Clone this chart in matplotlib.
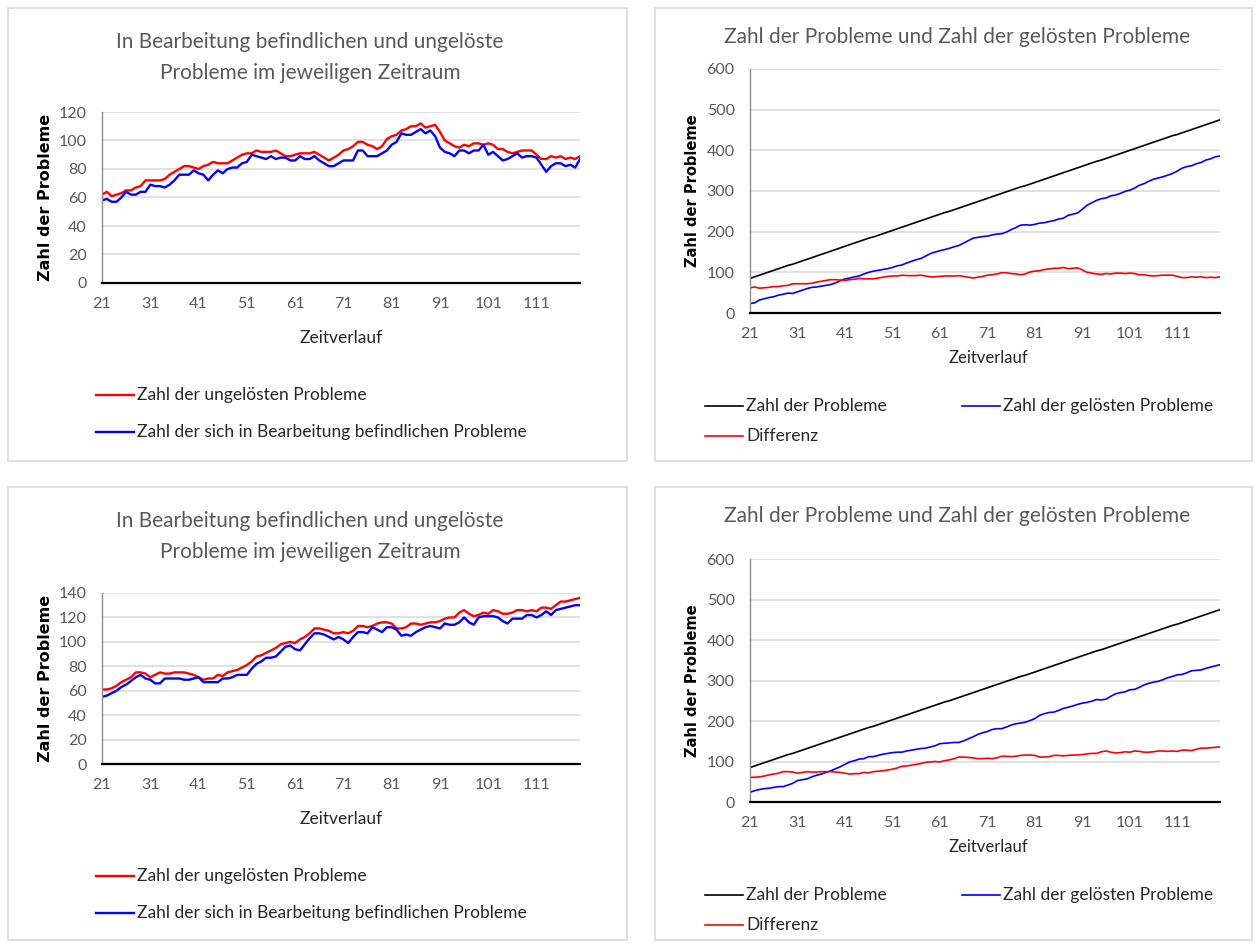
import matplotlib
matplotlib.use("Agg")
import matplotlib.pyplot as plt
from matplotlib.lines import Line2D
from matplotlib.patches import Rectangle

plt.rcParams['font.family'] = ['Lato', 'DejaVu Sans']

# ---- data -------------------------------------------------------------
periods = list(range(21, 121))
tick_labels = ['21', '31', '41', '51', '61', '71', '81', '91', '101', '111']

# total number of problems (black line, same in both right charts)
total_problems = [
    85, 89, 93, 97, 101, 105, 109, 113, 117, 120,
    124, 128, 132, 136, 140, 144, 148, 152, 156, 160,
    164, 168, 172, 176, 180, 184, 187, 191, 195, 199,
    203, 207, 211, 215, 219, 223, 227, 231, 235, 239,
    243, 247, 250, 254, 258, 262, 266, 270, 274, 278,
    282, 286, 290, 294, 298, 302, 306, 310, 313, 317,
    321, 325, 329, 333, 337, 341, 345, 349, 353, 357,
    361, 365, 369, 373, 376, 380, 384, 388, 392, 396,
    400, 404, 408, 412, 416, 420, 424, 428, 432, 436,
    439, 443, 447, 451, 455, 459, 463, 467, 471, 475,
]

# upper scenario
unsolved_a = [
    62, 64, 61, 62, 63, 65, 65, 67, 68, 72,
    72, 72, 72, 73, 76, 78, 80, 82, 82, 81,
    80, 82, 83, 85, 84, 84, 84, 86, 88, 90,
    91, 91, 93, 92, 92, 92, 93, 91, 89, 89,
    90, 91, 91, 91, 92, 90, 88, 86, 88, 90,
    93, 94, 96, 99, 99, 97, 96, 94, 96, 101,
    103, 104, 107, 108, 110, 110, 112, 109, 110, 111,
    106, 100, 98, 96, 95, 97, 96, 98, 98, 97,
    98, 97, 94, 94, 92, 91, 92, 93, 93, 93,
    90, 87, 87, 89, 88, 89, 87, 88, 87, 89,
]
in_progress_a = [
    58, 59, 57, 57, 60, 64, 62, 62, 64, 64,
    69, 68, 68, 67, 69, 72, 76, 76, 76, 79,
    77, 76, 72, 76, 79, 77, 80, 81, 81, 84,
    85, 90, 89, 88, 87, 89, 87, 88, 88, 86,
    86, 89, 87, 87, 89, 86, 84, 82, 82, 84,
    86, 86, 86, 93, 93, 89, 89, 89, 91, 93,
    97, 99, 105, 104, 104, 106, 108, 105, 107, 103,
    95, 92, 91, 89, 93, 93, 91, 93, 93, 97,
    90, 92, 89, 86, 87, 89, 91, 88, 89, 89,
    88, 83, 78, 82, 84, 84, 82, 83, 81, 87,
]

# lower scenario
unsolved_b = [
    61, 61, 62, 64, 67, 69, 71, 75, 75, 74,
    71, 73, 75, 74, 74, 75, 75, 75, 74, 73,
    71, 69, 70, 70, 73, 72, 75, 76, 77, 79,
    81, 84, 88, 89, 91, 93, 95, 98, 99, 100,
    99, 102, 104, 107, 111, 111, 110, 109, 107, 107,
    108, 107, 109, 113, 113, 112, 113, 115, 116, 116,
    115, 111, 111, 112, 115, 115, 114, 115, 116, 116,
    117, 119, 120, 120, 124, 126, 123, 121, 122, 124,
    123, 126, 125, 123, 123, 124, 126, 126, 125, 126,
    125, 128, 128, 127, 130, 133, 133, 134, 135, 136,
]
in_progress_b = [
    55, 56, 58, 60, 63, 65, 68, 71, 73, 70,
    69, 66, 66, 70, 70, 70, 70, 69, 69, 70,
    71, 67, 67, 67, 67, 70, 70, 71, 73, 73,
    73, 78, 82, 84, 87, 87, 88, 92, 96, 97,
    94, 93, 98, 103, 107, 107, 106, 104, 102, 104,
    102, 99, 104, 108, 108, 107, 112, 110, 108, 112,
    112, 110, 105, 106, 105, 108, 110, 112, 113, 112,
    111, 115, 114, 114, 116, 120, 116, 114, 120, 121,
    121, 121, 120, 117, 115, 119, 119, 119, 122, 122,
    120, 122, 125, 122, 126, 127, 128, 129, 130, 130,
]

solved_a = [t - u for t, u in zip(total_problems, unsolved_a)]
solved_b = [t - u for t, u in zip(total_problems, unsolved_b)]

LEFT_TITLE = ["In Bearbeitung befindlichen und ungelöste",
              "Probleme im jeweiligen Zeitraum"]
RIGHT_TITLE = "Zahl der Probleme und Zahl der gelösten Probleme"
X_LABEL = "Zeitverlauf"
Y_LABEL = "Zahl der Probleme"
LEG_LEFT = ["Zahl der ungelösten Probleme",
            "Zahl der sich in Bearbeitung befindlichen Probleme"]
LEG_RIGHT = ["Zahl der Probleme", "Zahl der gelösten Probleme", "Differenz"]

# ---- layout helpers ----------------------------------------------------
W, H = 1260, 946
fig = plt.figure(figsize=(W / 100, H / 100), dpi=100)
fig.patch.set_facecolor('white')

TICK_C = '#595959'
TEXT_C = '#262626'
GRID_C = '#d9d9d9'


def fx(x):
    return x / W


def fy(y):
    return 1 - y / H


def panel(x0, y0, x1, y1):
    fig.add_artist(Rectangle((fx(x0), fy(y1)), fx(x1) - fx(x0), fy(y0) - fy(y1),
                             transform=fig.transFigure, fill=False,
                             edgecolor='#d9d9d9', lw=1.2))


def make_axes(x0, y0, x1, y1, ymax, ystep):
    ax = fig.add_axes([fx(x0), fy(y1), fx(x1) - fx(x0), fy(y0) - fy(y1)])
    ax.set_xlim(0, len(periods) - 1)
    ax.set_ylim(0, ymax)
    ax.set_yticks(range(0, ymax + 1, ystep))
    ax.set_xticks([periods.index(int(t)) for t in tick_labels])
    ax.set_xticklabels(tick_labels)
    ax.tick_params(length=0, labelsize=11.5, colors=TICK_C)
    ax.tick_params(axis='y', pad=11)
    ax.tick_params(axis='x', pad=10)
    ax.grid(axis='y', color=GRID_C, lw=1.1)
    ax.set_axisbelow(True)
    for s in ('top', 'right'):
        ax.spines[s].set_visible(False)
    ax.spines['left'].set_color('#8c8c8c')
    ax.spines['left'].set_linewidth(1.0)
    ax.spines['bottom'].set_color('black')
    ax.spines['bottom'].set_linewidth(1.6)
    return ax


def legend_item(x, y, line, label, length=38):
    fig.add_artist(Line2D([fx(x), fx(x + length)], [fy(y), fy(y)],
                          transform=fig.transFigure,
                          color=line.get_color(), lw=line.get_linewidth()))
    fig.text(fx(x + length + 3), fy(y), label, fontsize=12.5, color=TEXT_C,
             va='center', ha='left')


idx = list(range(len(periods)))


def left_chart(top, unsolved, in_progress, ymax):
    panel(8, top, 627, top + 453)
    fig.text(fx(310), fy(top + 34), LEFT_TITLE[0], fontsize=15, color=TICK_C,
             ha='center', va='center')
    fig.text(fx(310), fy(top + 65), LEFT_TITLE[1], fontsize=15, color=TICK_C,
             ha='center', va='center')
    y_top = top + 104 if ymax == 120 else top + 106
    y_bot = top + 275 if ymax == 120 else top + 277
    ax = make_axes(102, y_top, 580, y_bot, ymax, 20)
    l1, = ax.plot(idx, unsolved, color='#ff0000', lw=1.7)
    l2, = ax.plot(idx, in_progress, color='#0000ff', lw=1.7)
    fig.text(fx(46), fy((y_top + y_bot) / 2), Y_LABEL, rotation=90,
             fontsize=11.5, fontweight='bold', color='black',
             family='DejaVu Sans', ha='center', va='center')
    fig.text(fx(341), fy(y_bot + 55), X_LABEL, fontsize=12.5, color=TEXT_C,
             ha='center', va='center')
    legend_item(96, y_bot + 112, l1, LEG_LEFT[0])
    legend_item(96, y_bot + 149, l2, LEG_LEFT[1])


def right_chart(top, solved, unsolved, y_top, y_bot):
    panel(655, top, 1252, top + 453)
    fig.text(fx(957), fy(top + 29), RIGHT_TITLE, fontsize=15, color=TICK_C,
             ha='center', va='center')
    ax = make_axes(750, y_top, 1220, y_bot, 600, 100)
    l1, = ax.plot(idx, total_problems, color='black', lw=1.2)
    l2, = ax.plot(idx, solved, color='#0000ff', lw=1.2)
    l3, = ax.plot(idx, unsolved, color='#ff0000', lw=1.2)
    fig.text(fx(692), fy((y_top + y_bot) / 2), Y_LABEL, rotation=90,
             fontsize=10.5, fontweight='bold', color='black',
             family='DejaVu Sans', ha='center', va='center')
    fig.text(fx(988), fy(y_bot + 45), X_LABEL, fontsize=12, color=TEXT_C,
             ha='center', va='center')
    legend_item(705, y_bot + 93, l1, LEG_RIGHT[0])
    legend_item(962, y_bot + 93, l2, LEG_RIGHT[1])
    legend_item(705, y_bot + 123, l3, LEG_RIGHT[2])


left_chart(8, unsolved_a, in_progress_a, 120)
left_chart(487, unsolved_b, in_progress_b, 140)
right_chart(8, solved_a, unsolved_a, 69, 313)
right_chart(487, solved_b, unsolved_b, 559, 802)

fig.savefig('out.png', dpi=100, facecolor='white')
